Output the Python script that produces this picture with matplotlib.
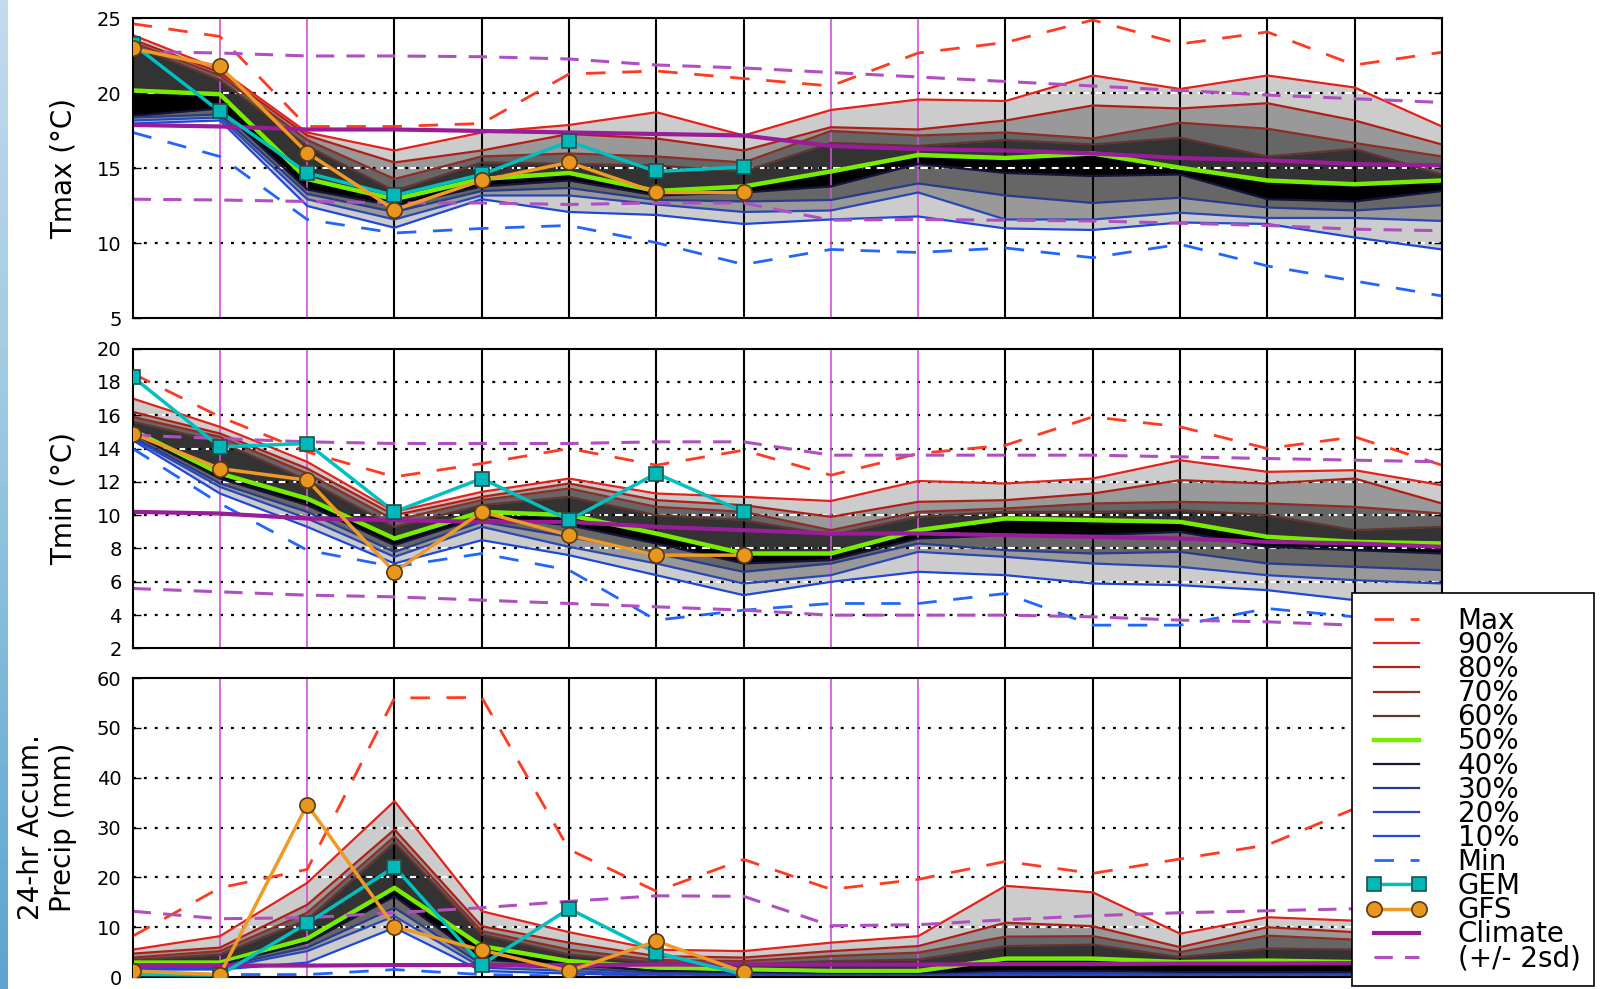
import numpy as np
import matplotlib
matplotlib.use('Agg')
import matplotlib.pyplot as plt

# ============================================================================
# Data, 16 forecast days
# ============================================================================
days = list(range(16))
n_model_days = 8

# Tmax (degC)
tmax_max = [24.65, 23.8, 17.8, 17.8, 18.0, 21.3, 21.5, 21.0, 20.5, 22.7, 23.4, 24.9, 23.3, 24.1, 21.9, 22.75]
tmax_p90 = [23.9, 21.6, 17.4, 16.2, 17.4, 17.9, 18.75, 17.2, 18.9, 19.6, 19.5, 21.2, 20.3, 21.2, 20.4, 17.8]
tmax_p80 = [23.6, 21.4, 17.2, 15.4, 16.2, 17.3, 17.0, 16.2, 17.75, 17.6, 18.2, 19.2, 19.0, 19.35, 18.2, 16.6]
tmax_p70 = [23.4, 21.2, 16.9, 14.3, 15.8, 16.0, 15.8, 15.4, 17.5, 17.2, 17.4, 17.0, 18.05, 17.65, 16.7, 15.8]
tmax_p60 = [23.2, 20.9, 16.5, 13.5, 15.4, 15.3, 15.2, 14.8, 16.7, 16.5, 16.9, 16.6, 17.05, 15.8, 16.3, 14.6]
tmax_p50 = [20.2, 19.95, 14.3, 12.95, 14.3, 14.7, 13.5, 13.8, 14.8, 15.9, 15.7, 16.0, 15.05, 14.2, 13.95, 14.2]
tmax_p40 = [18.5, 19.0, 13.6, 12.5, 13.8, 14.2, 13.2, 13.4, 13.8, 15.3, 14.7, 14.5, 14.6, 12.95, 12.8, 13.5]
tmax_p30 = [18.4, 18.6, 13.3, 12.1, 13.5, 13.7, 12.9, 12.8, 12.9, 14.0, 13.2, 12.7, 13.05, 12.4, 12.2, 12.55]
tmax_p20 = [18.2, 18.4, 12.95, 11.6, 13.2, 13.2, 12.6, 12.1, 12.2, 13.4, 11.6, 11.6, 12.05, 11.7, 11.7, 11.5]
tmax_p10 = [18.0, 18.2, 12.5, 11.05, 12.95, 12.1, 11.9, 11.3, 11.6, 11.8, 11.0, 10.9, 11.4, 11.3, 10.4, 9.6]
tmax_min = [17.4, 15.8, 11.6, 10.7, 11.0, 11.2, 10.05, 8.6, 9.6, 9.4, 9.7, 9.05, 9.95, 8.5, 7.5, 6.5]
tmax_gem = [23.3, 18.8, 14.7, 13.2, 14.6, 16.8, 14.8, 15.1]
tmax_gfs = [23.0, 21.8, 16.05, 12.25, 14.2, 15.4, 13.4, 13.4]
tmax_clim = [17.9, 17.8, 17.6, 17.6, 17.5, 17.4, 17.3, 17.2, 16.5, 16.3, 16.2, 16.0, 15.7, 15.55, 15.3, 15.2]
tmax_clim_hi = [22.8, 22.7, 22.5, 22.5, 22.45, 22.3, 21.9, 21.7, 21.4, 21.1, 20.8, 20.5, 20.2, 19.9, 19.65, 19.4]
tmax_clim_lo = [12.95, 12.9, 12.8, 12.7, 12.7, 12.6, 12.7, 12.7, 11.55, 11.6, 11.55, 11.5, 11.35, 11.2, 10.95, 10.85]

# Tmin (degC)
tmin_max = [18.5, 15.9, 13.8, 12.3, 13.1, 14.0, 13.0, 13.9, 12.4, 13.7, 14.2, 15.9, 15.3, 14.0, 14.7, 13.0]
tmin_p90 = [17.0, 15.3, 13.2, 10.2, 11.4, 12.2, 11.3, 11.1, 10.85, 12.05, 11.9, 12.2, 13.3, 12.6, 12.7, 11.8]
tmin_p80 = [16.2, 14.9, 12.8, 10.0, 11.1, 11.9, 10.9, 10.6, 9.9, 10.8, 10.9, 11.3, 12.1, 11.9, 12.2, 10.7]
tmin_p70 = [15.9, 14.7, 12.5, 9.7, 10.9, 11.6, 10.5, 10.2, 9.1, 10.2, 10.4, 10.7, 10.8, 10.7, 10.5, 10.1]
tmin_p60 = [15.6, 14.4, 12.1, 9.3, 10.6, 11.1, 10.0, 9.7, 8.8, 9.9, 10.2, 10.2, 10.3, 10.0, 9.1, 9.3]
tmin_p50 = [15.1, 12.5, 11.0, 8.6, 10.2, 10.0, 8.9, 7.7, 7.7, 9.1, 9.8, 9.7, 9.6, 8.7, 8.4, 8.3]
tmin_p40 = [14.9, 12.2, 10.6, 8.2, 9.9, 9.4, 8.3, 7.1, 7.3, 8.6, 8.8, 8.8, 9.0, 8.1, 7.9, 7.7]
tmin_p30 = [14.7, 11.9, 10.2, 7.8, 9.6, 8.7, 7.7, 6.6, 7.1, 8.3, 7.9, 7.7, 7.8, 7.1, 6.9, 6.7]
tmin_p20 = [14.6, 11.7, 9.8, 7.5, 9.3, 8.1, 7.1, 5.9, 6.4, 7.8, 7.5, 7.1, 6.9, 6.4, 6.1, 5.9]
tmin_p10 = [14.5, 11.3, 9.3, 7.1, 8.5, 7.6, 6.4, 5.2, 6.0, 6.6, 6.4, 5.9, 5.8, 5.5, 4.9, 4.7]
tmin_min = [14.0, 10.7, 7.9, 6.9, 7.7, 6.7, 3.7, 4.3, 4.7, 4.7, 5.3, 3.4, 3.4, 4.4, 3.9, 3.7]
tmin_gem = [18.3, 14.1, 14.3, 10.2, 12.2, 9.7, 12.5, 10.2]
tmin_gfs = [14.9, 12.8, 12.1, 6.6, 10.2, 8.8, 7.6, 7.6]
tmin_clim = [10.2, 10.1, 9.8, 9.7, 9.6, 9.6, 9.3, 9.1, 8.9, 8.9, 8.8, 8.7, 8.6, 8.4, 8.3, 8.1]
tmin_clim_hi = [14.8, 14.6, 14.4, 14.3, 14.3, 14.3, 14.4, 14.4, 13.6, 13.6, 13.6, 13.6, 13.5, 13.4, 13.3, 13.2]
tmin_clim_lo = [5.6, 5.4, 5.2, 5.1, 4.9, 4.7, 4.5, 4.3, 4.0, 4.0, 4.0, 3.9, 3.7, 3.6, 3.4, 3.3]

# 24-hr accumulated precip (mm)
pcp_max = [8.2, 17.9, 21.6, 56.0, 56.1, 25.6, 17.2, 23.6, 17.6, 19.6, 23.2, 20.8, 23.7, 26.5, 33.8, 38.0]
pcp_p90 = [5.5, 8.2, 18.9, 35.3, 13.2, 9.0, 5.5, 5.2, 6.9, 8.2, 18.3, 17.0, 8.7, 12.0, 11.3, 10.5]
pcp_p80 = [4.7, 5.9, 14.5, 29.6, 10.2, 6.9, 4.2, 3.9, 5.2, 6.2, 10.9, 10.2, 6.0, 10.0, 9.0, 8.0]
pcp_p70 = [3.9, 5.2, 12.9, 28.2, 9.2, 5.5, 3.4, 3.2, 4.2, 4.9, 8.1, 8.2, 5.0, 8.3, 7.5, 6.5]
pcp_p60 = [3.4, 4.5, 11.5, 27.0, 8.5, 4.5, 2.9, 2.5, 3.2, 3.5, 6.2, 6.5, 4.0, 5.7, 5.5, 5.0]
pcp_p50 = [2.9, 2.9, 7.7, 17.9, 6.2, 3.2, 1.9, 1.5, 1.2, 1.2, 3.7, 3.7, 3.0, 3.3, 3.0, 2.8]
pcp_p40 = [2.5, 2.5, 6.9, 16.2, 3.5, 2.5, 1.2, 0.9, 0.6, 0.6, 1.2, 1.2, 1.0, 1.0, 1.0, 1.0]
pcp_p30 = [2.1, 2.1, 5.9, 13.9, 2.5, 1.8, 0.8, 0.6, 0.4, 0.4, 0.8, 0.8, 0.6, 0.6, 0.6, 0.6]
pcp_p20 = [1.8, 1.8, 5.2, 12.2, 1.9, 1.2, 0.5, 0.4, 0.2, 0.2, 0.5, 0.5, 0.4, 0.4, 0.4, 0.4]
pcp_p10 = [1.5, 1.5, 2.9, 9.9, 1.2, 0.7, 0.3, 0.2, 0.1, 0.1, 0.3, 0.3, 0.2, 0.2, 0.2, 0.2]
pcp_min = [0.5, 0.5, 0.5, 1.5, 0.5, 0.2, 0.1, 0.0, 0.0, 0.0, 0.0, 0.0, 0.0, 0.0, 0.0, 0.0]
pcp_gem = [0.5, 0.4, 10.8, 22.1, 2.5, 13.7, 4.9, 0.5]
pcp_gfs = [1.2, 0.5, 34.6, 10.1, 5.4, 1.2, 7.2, 1.0]
pcp_clim = [2.3, 2.3, 2.3, 2.4, 2.4, 2.4, 2.5, 2.5, 2.5, 2.5, 2.6, 2.6, 2.7, 2.7, 2.8, 2.8]
pcp_clim_hi = [13.2, 11.7, 11.9, 12.9, 13.9, 15.2, 16.3, 16.2, 10.3, 10.5, 11.5, 12.3, 12.9, 13.3, 13.7, 14.0]
pcp_clim_lo = [0.0] * 16

weekend_days = [1, 2, 8, 9]

PCT_LABELS = ['90%', '80%', '70%', '60%', '50%', '40%', '30%', '20%', '10%']
PCT_COLORS = ['#e3231a', '#b01f16', '#8c2d26', '#633532', '#77ee00',
              '#14143c', '#283c8c', '#2a48b4', '#1e48dc']
BAND_COLORS = ['#cccccc', '#999999', '#666666', '#333333']  # outer -> inner


def draw_panel(ax, pmax, pcts, pmin, gem, gfs, clim, clim_hi, clim_lo,
               ylim, yticks, ylabel):
    x = np.array(days)
    # percentile bands: consecutive pairs, symmetric greys, black just below median
    for i in range(4):
        ax.fill_between(x, pcts[i], pcts[i + 1], color=BAND_COLORS[i], lw=0, zorder=1)
        ax.fill_between(x, pcts[8 - i], pcts[7 - i], color=BAND_COLORS[i], lw=0, zorder=1)
    ax.fill_between(x, pcts[4], pcts[5], color='black', lw=0, zorder=1)

    # grid: white dashes under black dots
    for yv in yticks[1:-1]:
        ax.axhline(yv, color='white', lw=1.5, dashes=(4, 3), zorder=1.5)
        ax.axhline(yv, color='black', lw=1.6, dashes=(1.3, 3.6), zorder=1.6)

    for d in days[1:-1]:
        if d in weekend_days:
            ax.axvline(d, color='#d050d8', lw=1.2, zorder=1.7)
        else:
            ax.axvline(d, color='black', lw=1.5, zorder=1.7)

    ax.plot(x, pmax, color='#ff3a20', lw=2, dashes=(7, 6), label='Max', zorder=2.1)
    for vals, lab, col in zip(pcts, PCT_LABELS, PCT_COLORS):
        lw = 3.2 if lab == '50%' else 1.6
        ax.plot(x, vals, color=col, lw=lw, label=lab, zorder=2)
    ax.plot(x, pmin, color='#2266ff', lw=2, dashes=(7, 6), label='Min', zorder=2.1)

    xm = x[:n_model_days]
    ax.plot(xm, gem, color='#00c0c0', lw=2.5, marker='s', ms=10,
            mfc='#00b8b8', mec='#1f4f4f', mew=1.2, label='GEM', zorder=3)
    ax.plot(xm, gfs, color='#ee9a25', lw=2.5, marker='o', ms=11,
            mfc='#e8961e', mec='#5a3a10', mew=1.2, label='GFS', zorder=3.1)
    ax.plot(x, clim, color='#991c99', lw=3, label='Climate', zorder=2.2)
    ax.plot(x, clim_hi, color='#b050c0', lw=2.2, dashes=(6, 4), label='(+/- 2sd)', zorder=2.2)
    ax.plot(x, clim_lo, color='#b050c0', lw=2.2, dashes=(6, 4), zorder=2.2)

    ax.set_xlim(0, 15)
    ax.set_ylim(*ylim)
    ax.set_xticks([])
    ax.set_yticks(yticks)
    ax.tick_params(axis='y', direction='in', length=6, width=1, labelsize=14,
                   right=True, pad=8)
    for s in ax.spines.values():
        s.set_linewidth(1.5)
    ax.set_ylabel(ylabel, fontsize=20, labelpad=14)


fig = plt.figure(figsize=(16, 9.89), dpi=100)

# thin tinted strip along the left edge (screenshot border)
strip = fig.add_axes([0, 0, 0.005, 1])
strip.imshow(np.linspace(0, 1, 100)[:, None], aspect='auto', cmap='Blues',
             vmin=-0.9, vmax=2.6)
strip.axis('off')

ax1 = fig.add_axes([0.0829, 0.678, 0.8183, 0.3033])
ax2 = fig.add_axes([0.0829, 0.3443, 0.8183, 0.3033])
ax3 = fig.add_axes([0.0829, 0.0121, 0.8183, 0.3023])

draw_panel(ax1, tmax_max,
           [tmax_p90, tmax_p80, tmax_p70, tmax_p60, tmax_p50, tmax_p40, tmax_p30, tmax_p20, tmax_p10],
           tmax_min, tmax_gem, tmax_gfs, tmax_clim, tmax_clim_hi, tmax_clim_lo,
           (5, 25), [5, 10, 15, 20, 25], 'Tmax (\u00b0C)')
draw_panel(ax2, tmin_max,
           [tmin_p90, tmin_p80, tmin_p70, tmin_p60, tmin_p50, tmin_p40, tmin_p30, tmin_p20, tmin_p10],
           tmin_min, tmin_gem, tmin_gfs, tmin_clim, tmin_clim_hi, tmin_clim_lo,
           (2, 20), list(range(2, 21, 2)), 'Tmin (\u00b0C)')
draw_panel(ax3, pcp_max,
           [pcp_p90, pcp_p80, pcp_p70, pcp_p60, pcp_p50, pcp_p40, pcp_p30, pcp_p20, pcp_p10],
           pcp_min, pcp_gem, pcp_gfs, pcp_clim, pcp_clim_hi, pcp_clim_lo,
           (0, 60), list(range(0, 61, 10)), '24-hr Accum.\nPrecip (mm)')

handles, labels = ax3.get_legend_handles_labels()
leg = fig.legend(handles, labels, loc='upper left', bbox_to_anchor=(0.845, 0.4004),
                 bbox_transform=fig.transFigure, borderaxespad=0, fontsize=20,
                 numpoints=2, frameon=True, fancybox=False, framealpha=1,
                 edgecolor='black', labelspacing=-0.14, handlelength=2.2,
                 handletextpad=1.1, borderpad=0.5)
leg.get_frame().set_linewidth(1.2)

fig.savefig('out.png', dpi=100)
